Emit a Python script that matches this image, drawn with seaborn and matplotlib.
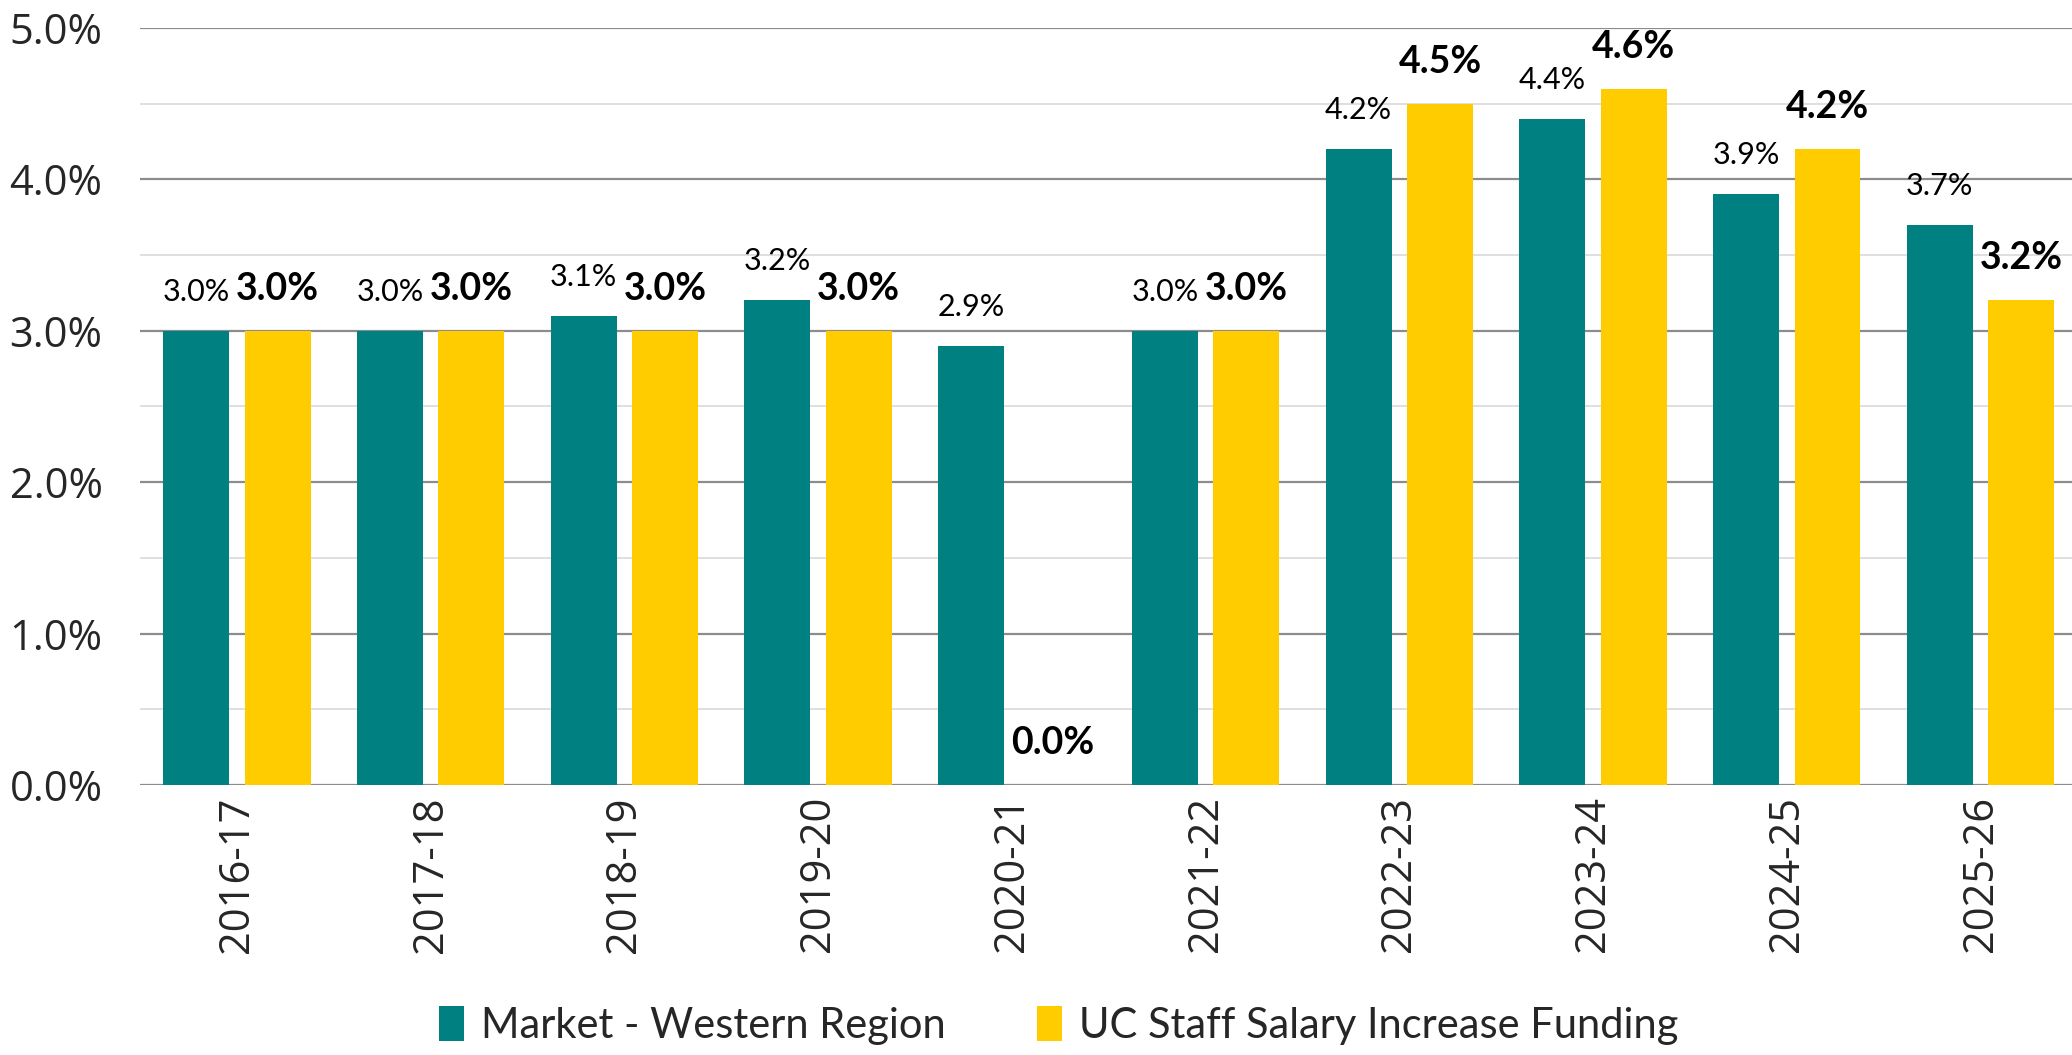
"""Market vs UC staff salary increase funding, grouped bars."""

import numpy as np
import pandas as pd
import matplotlib
matplotlib.use("Agg")
import matplotlib.pyplot as plt
from matplotlib.ticker import MultipleLocator, FuncFormatter
from matplotlib.patches import Patch
import seaborn as sns

years = ["2016-17", "2017-18", "2018-19", "2019-20", "2020-21",
         "2021-22", "2022-23", "2023-24", "2024-25", "2025-26"]
market = [3.0, 3.0, 3.1, 3.2, 2.9, 3.0, 4.2, 4.4, 3.9, 3.7]
uc_funding = [3.0, 3.0, 3.0, 3.0, 0.0, 3.0, 4.5, 4.6, 4.2, 3.2]
series = ["Market - Western Region", "UC Staff Salary Increase Funding"]
colors = ["#008080", "#FFCC00"]

df = pd.DataFrame({
    "year": years * 2,
    "value": market + uc_funding,
    "series": [series[0]] * len(years) + [series[1]] * len(years),
})

sns.set_theme(style="white")
plt.rcParams["font.family"] = ["Open Sans", "DejaVu Sans"]

fig = plt.figure(figsize=(20.72, 10.55), dpi=100)
ax = fig.add_axes([0.0676, 0.256, 0.935, 0.7175])

sns.barplot(data=df, x="year", y="value", hue="series", palette=colors,
            width=0.84, gap=0.19, saturation=1, linewidth=0, ax=ax, legend=False)

ax.set_ylim(0, 5)
ax.set_xlim(-0.5, len(years) - 0.5)
ax.yaxis.set_major_locator(MultipleLocator(1))
ax.yaxis.set_minor_locator(MultipleLocator(0.5))
ax.yaxis.set_major_formatter(FuncFormatter(lambda v, _: f"{v:.1f}%"))
ax.grid(axis="y", which="minor", color="#d9d9d9", linewidth=1.2, zorder=0)
ax.grid(axis="y", which="major", color="#8c8c8c", linewidth=1.6, zorder=0)
ax.set_axisbelow(True)
for s in ax.spines.values():
    s.set_visible(False)
ax.set_xlabel("")
ax.set_ylabel("")
ax.tick_params(axis="y", which="both", length=0, labelsize=30, pad=27)
ax.tick_params(axis="x", length=0, labelsize=30, pad=8)
for lbl in ax.get_xticklabels():
    lbl.set_rotation(90)

# data labels: market plain, UC funding bold
for cont, vals, size, weight in zip(ax.containers, [market, uc_funding],
                                    [22, 27], ["normal", "bold"]):
    for bar, v in zip(cont, vals):
        ax.annotate(f"{v:.1f}%", (bar.get_x() + bar.get_width() / 2, v),
                    xytext=(0, 18), textcoords="offset points",
                    ha="center", va="bottom", fontsize=size, fontweight=weight,
                    family=["Lato", "DejaVu Sans"], color="black")

handles = [Patch(facecolor=c, edgecolor="none") for c in colors]
fig.legend(handles, series, loc="center", bbox_to_anchor=(0.511, 0.028),
           ncol=2, frameon=False, handlelength=0.6,
           handleheight=0.9, handletextpad=0.4, columnspacing=2.2,
           prop={"family": ["Lato", "DejaVu Sans"], "size": 30})

fig.savefig("out.png", dpi=100)
plt.close(fig)
